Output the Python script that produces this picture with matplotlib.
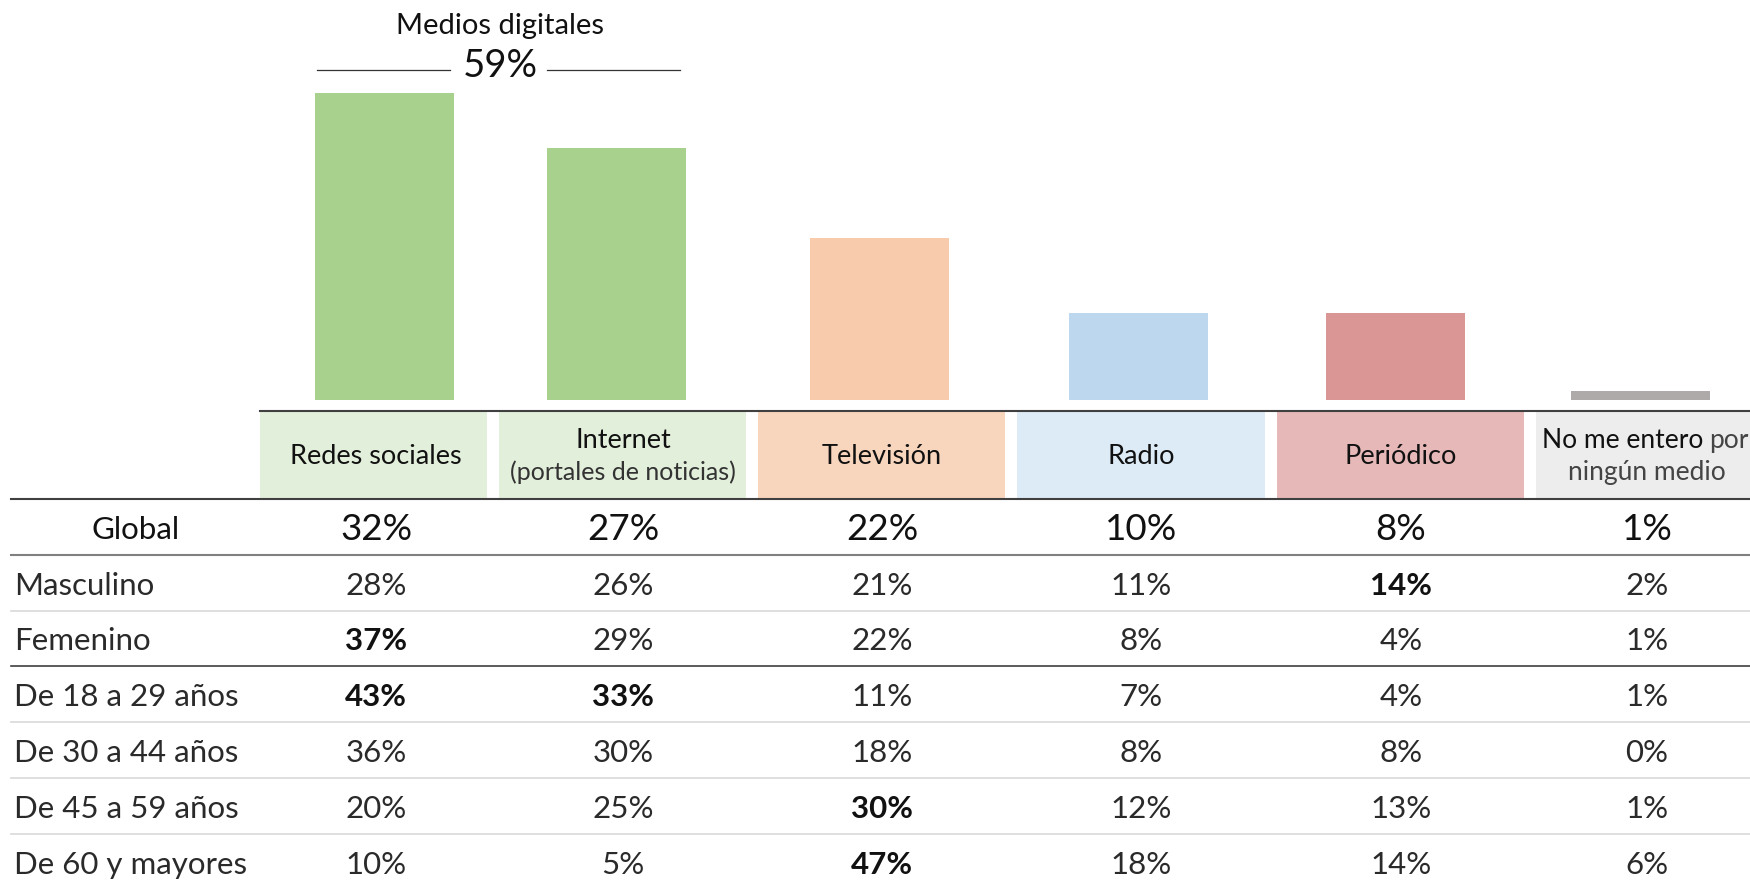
import matplotlib
matplotlib.use("Agg")
import matplotlib.pyplot as plt

plt.rcParams["font.family"] = ["Lato", "DejaVu Sans"]

# --- datos ---
medios = ["Redes sociales", "Internet", "Televisión", "Radio", "Periódico", "No me entero por ningún medio"]
global_vals = [32, 27, 22, 10, 8, 1]
# alturas de las barras tal como aparecen en la imagen (no son proporcionales a los valores)
bar_heights = [32, 26.3, 16.9, 9.1, 9.1, 0.9]
segmentos = ["Masculino", "Femenino", "De 18 a 29 años", "De 30 a 44 años",
             "De 45 a 59 años", "De 60 y mayores"]
valores = [
    [28, 26, 21, 11, 14, 2],
    [37, 29, 22, 8, 4, 1],
    [43, 33, 11, 7, 4, 1],
    [36, 30, 18, 8, 8, 0],
    [20, 25, 30, 12, 13, 1],
    [10, 5, 47, 18, 14, 6],
]
negritas = [(0, 4), (1, 0), (2, 0), (2, 1), (4, 2), (5, 2)]

# --- estilos ---
bar_colors = ["#a9d18e", "#a9d18e", "#f8cbad", "#bdd7ee", "#da9694", "#aeaaaa"]
cell_colors = ["#e2efda", "#e2efda", "#f8d5bd", "#ddebf7", "#e6b8b7", "#ededed"]

W, H = 1750, 886
fig = plt.figure(figsize=(W / 100, H / 100), dpi=100)

# layout en pixeles
base_y = 400
bar_x = [384, 616, 879, 1138, 1395, 1640]
bar_w = 139
cell_l = [260, 499, 758, 1017, 1277, 1536]
cell_r = [487, 746, 1005, 1265, 1524, 1750]
col_x = [376, 623, 882, 1141, 1401, 1647]
head_top, head_bot = 412, 499
row_h = 55.8
dy = 3  # ajuste vertical del texto

# barras
axb = fig.add_axes([0, 1 - base_y / H, 1, base_y / H])
axb.set_xlim(0, W)
axb.set_ylim(0, 32 * base_y / 307)
axb.bar(bar_x, bar_heights, width=bar_w, color=bar_colors)
axb.axis("off")

# tabla
ax = fig.add_axes([0, 0, 1, 1])
ax.set_xlim(0, W)
ax.set_ylim(H, 0)
ax.axis("off")

for i in range(len(medios)):
    ax.fill_between([cell_l[i], cell_r[i]], head_top, head_bot, color=cell_colors[i], lw=0)

hdr = dict(ha="center", va="center", fontsize=19.5, color="#111111")
ax.text(col_x[0], 456, medios[0], **hdr)
ax.text(col_x[1], 440, "Internet", **hdr)
ax.text(col_x[1], 472, "(portales de noticias)", ha="center", va="center",
        fontsize=18, color="#333333")
for i in [2, 3, 4]:
    ax.text(col_x[i], 456, medios[i], **hdr)
ax.text(1703, 440, "No me entero", ha="right", va="center", fontsize=19, color="#111111")
ax.text(1709, 440, "por", ha="left", va="center", fontsize=19, color="#444444")
ax.text(col_x[5], 472, "ningún medio", ha="center", va="center", fontsize=19,
        color="#444444")

# fila global
g_y = head_bot + row_h / 2 + dy
ax.text(136, g_y, "Global", ha="center", va="center", fontsize=22.5, color="#111111")
for i, v in enumerate(global_vals):
    ax.text(col_x[i], g_y, f"{v}%", ha="center", va="center", fontsize=26.5, color="#111111")

# segmentos
for r, (seg, fila) in enumerate(zip(segmentos, valores)):
    y = head_bot + row_h * (r + 1.5) + dy
    ax.text(14, y, seg, ha="left", va="center", fontsize=22.5, color="#2a2a2a")
    for i, v in enumerate(fila):
        b = (r, i) in negritas
        ax.text(col_x[i], y, f"{v}%", ha="center", va="center", fontsize=22.5,
                color="#111111" if b else "#2a2a2a", fontweight="bold" if b else "normal")

# lineas
ax.plot([260, W], [411, 411], color="#404040", lw=1.5)
ax.plot([11, W], [head_bot, head_bot], color="#404040", lw=1.5)
ax.plot([11, W], [head_bot + row_h, head_bot + row_h], color="#808080", lw=1.5)
for k in [2, 4, 5, 6]:
    yy = head_bot + row_h * k
    ax.plot([11, W], [yy, yy], color="#d9d9d9", lw=1.2)
ax.plot([11, W], [head_bot + row_h * 3] * 2, color="#404040", lw=1.2)

# medios digitales
ax.text(500, 26, "Medios digitales", ha="center", va="center", fontsize=21, color="#111111")
ax.text(500, 66, f"{global_vals[0] + global_vals[1]}%", ha="center", va="center",
        fontsize=27.5, color="#111111")
ax.plot([317, 450], [70, 70], color="#333333", lw=0.9)
ax.plot([547, 680], [70, 70], color="#333333", lw=0.9)

fig.savefig("out.png", dpi=100)
